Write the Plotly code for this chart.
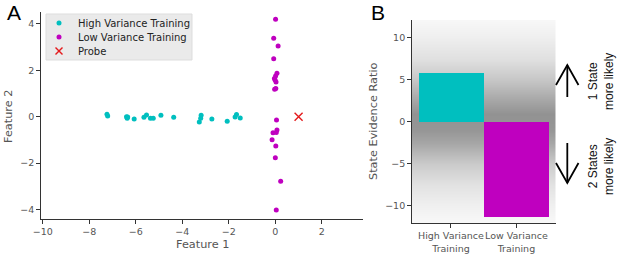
import plotly.graph_objects as go

# ---------------- data ----------------
high_x = [-7.24, -7.21, -6.40, -6.37, -6.35, -6.07, -5.65, -5.54, -5.37, -5.25,
          -4.92, -4.37, -3.27, -3.21, -3.19, -2.73, -2.07, -1.73, -1.67, -1.51]
high_y = [0.10, 0.03, 0.00, -0.07, -0.02, -0.10, -0.03, 0.07, -0.07, -0.07,
          0.06, -0.03, -0.23, -0.07, 0.06, -0.10, -0.20, -0.01, 0.09, -0.06]
low_x = [0.01, -0.07, 0.12, -0.07, 0.07, 0.01, -0.04, -0.01, 0.03, 0.02, -0.03,
         0.05, 0.07, 0.04, -0.10, -0.14, 0.02, 0.00, 0.23, 0.04]
low_y = [4.20, 3.38, 3.05, 2.50, 1.87, 1.75, 1.65, 1.58, 1.50, 1.22, 1.18,
         -0.14, -0.58, -0.68, -0.69, -1.00, -1.27, -1.77, -2.79, -4.03]
probe_x = [1.0]
probe_y = [0.0]

series_names = ["High Variance Training", "Low Variance Training", "Probe"]

categories = ["High Variance Training", "Low Variance Training"]
tick_labels = ["High Variance<br>Training", "Low Variance<br>Training"]
evidence = [5.8, -11.27]

# ---------------- style ----------------
W, H = 617, 258
CYAN = "#00BFBF"
MAG = "#BF00BF"
RED = "#e41a1c"
AX = "#333333"
TXT = "#555555"
FONT = "DejaVu Sans"


def px(x):
    return x / W


def py(y):
    return 1 - y / H


fig = go.Figure()

fig.add_trace(go.Scatter(x=high_x, y=high_y, mode="markers", name=series_names[0],
                         marker=dict(color=CYAN, size=5), xaxis="x", yaxis="y"))
fig.add_trace(go.Scatter(x=low_x, y=low_y, mode="markers", name=series_names[1],
                         marker=dict(color=MAG, size=5), xaxis="x", yaxis="y"))
fig.add_trace(go.Scatter(x=probe_x, y=probe_y, mode="markers", name=series_names[2],
                         marker=dict(color=RED, size=8, symbol="x-thin",
                                     line=dict(color=RED, width=1.4)),
                         xaxis="x", yaxis="y"))

# panel B gradient background (grey level vs. height)
ylo, yhi = -12.06, 12.14
xlo, xhi = -0.6, 1.6
grad_vals = [ylo, -10, -7.5, -5, -2.5, -1, 1, 2.5, 5, 7.5, 10, yhi]
grad_grey = [248, 240, 226, 203, 166, 150, 146, 165, 198, 224, 238, 247]
fig.add_trace(go.Heatmap(x=[xlo, xhi], y=grad_vals, z=[[g, g] for g in grad_grey],
                         zmin=0, zmax=255, zsmooth="best",
                         colorscale=[[0, "rgb(0,0,0)"], [1, "rgb(255,255,255)"]],
                         showscale=False, hoverinfo="skip", xaxis="x2", yaxis="y2"))

fig.add_trace(go.Bar(x=list(range(len(categories))), y=evidence, width=1.0,
                     marker=dict(color=[CYAN, MAG], line=dict(width=0)),
                     showlegend=False, xaxis="x2", yaxis="y2",
                     hovertext=categories))

axis_common = dict(showline=True, linecolor=AX, linewidth=1.2, ticks="outside",
                   ticklen=3.5, tickwidth=1, tickcolor=AX, showgrid=False, zeroline=False,
                   automargin=False, tickangle=0,
                   tickfont=dict(family=FONT, size=9.5, color=TXT))

fig.update_layout(
    width=W, height=H, margin=dict(l=0, r=0, t=0, b=0),
    plot_bgcolor="white", paper_bgcolor="white",
    font=dict(family=FONT, color=TXT),
    showlegend=False,
    xaxis=dict(domain=[px(40.7), px(363)], range=[-10.09, 3.77], anchor="y",
               tickvals=[-10, -8, -6, -4, -2, 0, 2], **axis_common),
    yaxis=dict(domain=[py(219.3), py(11.7)], range=[-4.43, 4.53], anchor="x",
               tickvals=[-4, -2, 0, 2, 4], **axis_common),
    xaxis2=dict(domain=[px(411.7), px(555.7)], range=[xlo, xhi], anchor="y2",
                tickvals=list(range(len(categories))), ticktext=tick_labels, **axis_common),
    yaxis2=dict(domain=[py(223.3), py(20)], range=[ylo, yhi], anchor="x2",
                tickvals=[-10, -5, 0, 5, 10], **axis_common),
    bargap=0,
)

ann = [
    dict(text="A", x=px(13.5), y=py(12.5), font=dict(family="Liberation Sans", size=21, color="black")),
    dict(text="B", x=px(377.5), y=py(12.5), font=dict(family="Liberation Sans", size=21, color="black")),
    dict(text="Feature 1", x=px(202), y=py(244), font=dict(family=FONT, size=11.3, color=TXT)),
    dict(text="Feature 2", x=px(8.5), y=py(116.5), textangle=-90,
         font=dict(family=FONT, size=11.3, color=TXT)),
    dict(text="State Evidence Ratio", x=px(374), y=py(121), textangle=-90,
         font=dict(family=FONT, size=11.3, color=TXT)),
    dict(text="1 State<br>more likely", x=px(601), y=py(82), textangle=-90,
         font=dict(family="Liberation Sans", size=12, color="#111111")),
    dict(text="2 States<br>more likely", x=px(601), y=py(167), textangle=-90,
         font=dict(family="Liberation Sans", size=12, color="#111111")),
]
for a in ann:
    a.update(xref="paper", yref="paper", showarrow=False, xanchor="center", yanchor="middle")

# compact legend (matplotlib-like spacing)
leg_rows = [23, 37, 51]
for name, yy in zip(series_names, leg_rows):
    ann.append(dict(text=name, x=px(76), y=py(yy), xref="paper", yref="paper",
                    showarrow=False, xanchor="left", yanchor="middle",
                    font=dict(family=FONT, size=10, color="#222222")))
fig.update_layout(annotations=ann)

shapes = [dict(type="rect", xref="paper", yref="paper", x0=px(46), x1=px(192),
               y0=py(60), y1=py(14), fillcolor="rgba(232,232,232,0.92)",
               line=dict(color="#dddddd", width=1), layer="above")]
for col, yy in zip([CYAN, MAG], leg_rows[:2]):
    shapes.append(dict(type="circle", xref="paper", yref="paper",
                       x0=px(59 - 2.5), x1=px(59 + 2.5), y0=py(yy + 2.5), y1=py(yy - 2.5),
                       fillcolor=col, line=dict(width=0), layer="above"))
yy = leg_rows[2]
for d in (1, -1):
    shapes.append(dict(type="line", xref="paper", yref="paper",
                       x0=px(59 - 3.5), x1=px(59 + 3.5), y0=py(yy - 3.5 * d), y1=py(yy + 3.5 * d),
                       line=dict(color=RED, width=1.4), layer="above"))

ax_x = 567.3
arrows = [
    [(ax_x, 97), (ax_x, 65)], [(556, 85), (ax_x, 65), (578.5, 85)],
    [(ax_x, 143), (ax_x, 183)], [(556, 163), (ax_x, 183), (578.5, 163)],
]
for pts in arrows:
    path = "M " + " L ".join(f"{px(x):.5f},{py(y):.5f}" for x, y in pts)
    shapes.append(dict(type="path", xref="paper", yref="paper", path=path,
                       line=dict(color="black", width=1.8)))
fig.update_layout(shapes=shapes)

fig.write_html("out.html",
               config={"displayModeBar": False},
               post_script="document.body.style.margin='0px';"
                           "document.body.style.overflow='hidden';")
